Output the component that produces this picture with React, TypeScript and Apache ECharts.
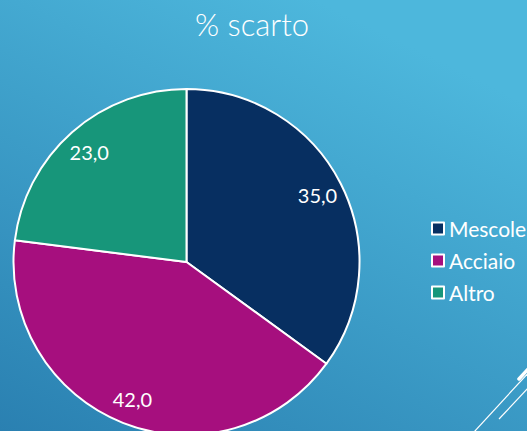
import React, { useEffect, useRef } from "react";
import * as echarts from "echarts";

const categories = ["Mescole", "Acciaio", "Altro"];
const values = [35.0, 42.0, 23.0];
const colors = ["#072f61", "#a60f7e", "#17967a"];
const titleText = "% scarto";

export default function App() {
  const ref = useRef<HTMLDivElement>(null);
  useEffect(() => {
    if (!ref.current) return;
    const chart = echarts.init(ref.current, undefined, { renderer: "svg" });
    const data = categories.map((name, i) => ({ name, value: values[i], itemStyle: { color: colors[i] } }));
    const font = "Lato, 'Open Sans', sans-serif";
    chart.setOption({
      animation: false,
      backgroundColor: {
        type: "linear",
        x: 0, y: 1, x2: 0.6, y2: 0,
        colorStops: [
          { offset: 0, color: "#2a80b1" },
          { offset: 1, color: "#4db7dc" },
        ],
      },
      title: {
        text: titleText,
        left: 247,
        textAlign: "center",
        top: 3,
        textStyle: { color: "#ffffff", fontFamily: font, fontSize: 31, fontWeight: 300 },
      },
      legend: {
        orient: "vertical",
        left: 426,
        top: 213,
        data: categories,
        itemWidth: 12,
        itemHeight: 12,
        itemGap: 11,
        icon: "rect",
        selectedMode: false,
        itemStyle: { borderColor: "#ffffff", borderWidth: 2 },
        textStyle: { color: "#ffffff", fontFamily: font, fontSize: 21, fontWeight: "normal", padding: [0, 0, 0, 0] },
      },
      series: [
        {
          type: "pie",
          center: [186.5, 262],
          radius: 173,
          startAngle: 90,
          clockwise: true,
          data,
          label: { show: false },
          labelLine: { show: false },
          itemStyle: { borderColor: "#ffffff", borderWidth: 2 },
          emphasis: { disabled: true },
        },
        {
          type: "pie",
          center: [186.5, 262],
          radius: [115, 173],
          startAngle: 90,
          clockwise: true,
          silent: true,
          data: categories.map((name, i) => ({ name, value: values[i] })),
          itemStyle: { color: "rgba(0,0,0,0)", borderWidth: 0 },
          label: {
            show: true,
            position: "inside",
            color: "#ffffff",
            fontFamily: font,
            fontSize: 20,
            fontWeight: "normal",
            formatter: (p: any) => p.value.toFixed(1).replace(".", ","),
          },
          labelLine: { show: false },
          emphasis: { disabled: true },
        },
      ],
      graphic: [
        { type: "line", shape: { x1: 474, y1: 432, x2: 530, y2: 371 }, style: { stroke: "#ffffff", lineWidth: 1.2 } },
        { type: "line", shape: { x1: 499, y1: 419, x2: 530, y2: 386 }, style: { stroke: "#ffffff", lineWidth: 1.2 } },
        { type: "line", shape: { x1: 519, y1: 379, x2: 530, y2: 367 }, style: { stroke: "#ffffff", lineWidth: 3.5, lineCap: "round" } },
      ],
    });
    return () => chart.dispose();
  }, []);
  return <div ref={ref} style={{ width: 527, height: 431, position: "fixed", left: 0, top: 0 }} />;
}
